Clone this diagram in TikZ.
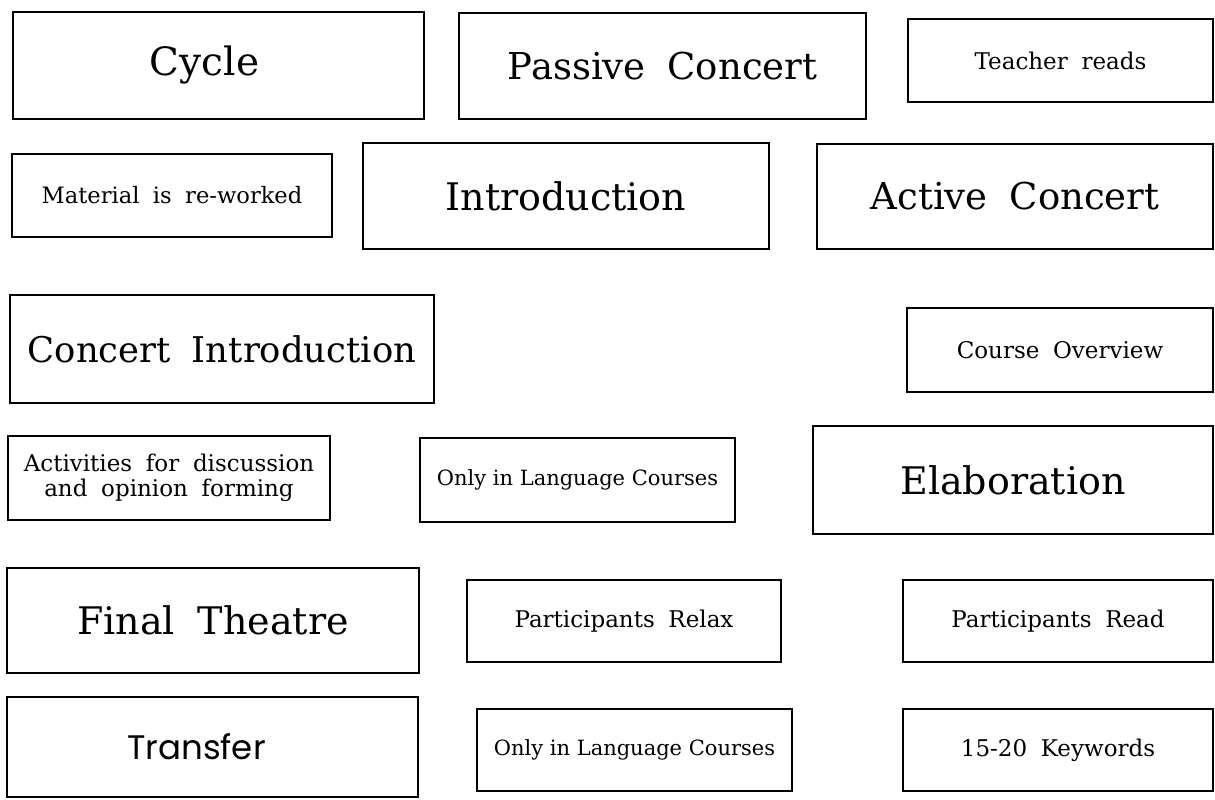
\documentclass[tikz,border=0pt]{standalone}
\usepackage{fontspec}
\setmainfont{DejaVu Serif}
\newfontfamily\geofont{Poppins}
\usepackage{tikz}

\tikzset{
    card/.style={draw, line width=1pt, inner sep=0pt, align=center},
    large/.style={font=\fontsize{18.5}{21}\selectfont},
    small/.style={font=\fontsize{11.5}{13}\selectfont}
}

\begin{document}
\begin{tikzpicture}[x=0.5pt, y=-0.5pt]
    \useasboundingbox (0,0) rectangle (1215,799);

    % Top row
    \node[card, font=\fontsize{19.5}{23}\selectfont, minimum width=205.5pt, minimum height=53.5pt] (cycle) at (218.5,65.5) {Cycle\hspace*{14pt}};
    \node[card, large, minimum width=203.5pt, minimum height=53pt] (passive) at (662.5,66) {Passive\; Concert};
    \node[card, small, minimum width=152.5pt, minimum height=41.5pt] (teacher) at (1060.5,60.5) {Teacher\; reads};

    % Second row
    \node[card, font=\fontsize{11.3}{13}\selectfont, minimum width=160pt, minimum height=41.5pt] (material) at (172,195.5) {Material\; is\; re-worked};
    \node[card, font=\fontsize{19}{22}\selectfont, minimum width=203pt, minimum height=53pt] (intro) at (566,196) {Introduction};
    \node[card, large, minimum width=198pt, minimum height=52.5pt] (active) at (1015,196.5) {Active\; Concert};

    % Third row
    \node[card, font=\fontsize{17.7}{20}\selectfont, minimum width=212pt, minimum height=54pt] (concintro) at (222,349) {Concert\; Introduction};
    \node[card, small, minimum width=153pt, minimum height=42pt] (overview) at (1060,350) {Course\; Overview};

    % Fourth row
    \node[card, font=\fontsize{11.5}{12.5}\selectfont, minimum width=161pt, minimum height=42pt] (activities) at (169,478) {Activities\; for\; discussion\\and\; opinion\; forming};
    \node[card, font=\fontsize{10.5}{12}\selectfont, minimum width=157.5pt, minimum height=42pt] (onlylang) at (577.5,480) {Only in Language Courses};
    \node[card, font=\fontsize{19}{22}\selectfont, minimum width=200pt, minimum height=54pt] (elab) at (1013,480) {Elaboration};

    % Fifth row
    \node[card, font=\fontsize{19}{22}\selectfont, minimum width=206pt, minimum height=52.5pt] (final) at (213,620.5) {Final\; Theatre};
    \node[card, small, minimum width=157pt, minimum height=41pt] (relax) at (624,621) {Participants\; Relax};
    \node[card, small, minimum width=155pt, minimum height=41pt] (partread) at (1058,621) {Participants\; Read};

    % Bottom row
    \node[card, font=\geofont\fontsize{17}{20}\selectfont, minimum width=205.5pt, minimum height=50pt] (transfer) at (212.5,747) {Transfer\hspace*{16pt}};
    \node[card, font=\fontsize{10.5}{12}\selectfont, minimum width=157.5pt, minimum height=41pt] (onlylangb) at (634.5,750) {Only in Language Courses};
    \node[card, small, minimum width=155pt, minimum height=41pt] (keywords) at (1058,750) {15-20\; Keywords};
\end{tikzpicture}
\end{document}
